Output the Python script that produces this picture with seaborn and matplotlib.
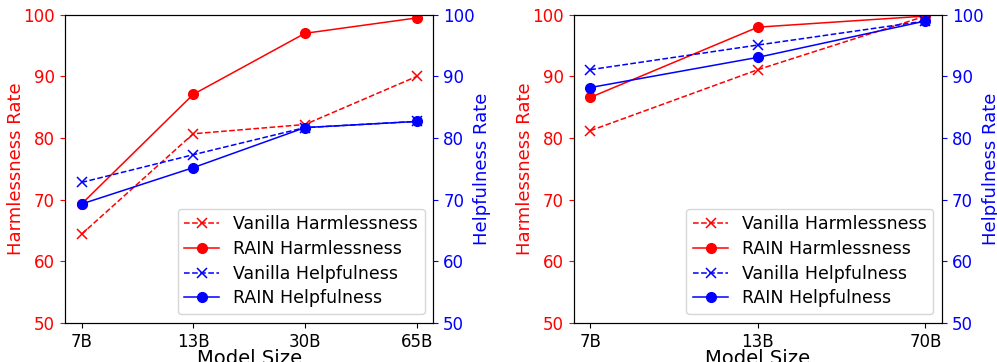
import matplotlib
matplotlib.use("Agg")
import matplotlib.pyplot as plt
import seaborn as sns

# ---- data ----
sizes_left = ["7B", "13B", "30B", "65B"]
vanilla_harm_left = [64.4, 80.7, 82.2, 90.0]
rain_harm_left = [69.3, 87.1, 97.0, 99.5]
vanilla_help_left = [72.8, 77.3, 81.7, 82.7]
rain_help_left = [69.3, 75.2, 81.7, 82.7]

sizes_right = ["7B", "13B", "70B"]
vanilla_harm_right = [81.2, 91.1, 99.8]
rain_harm_right = [86.6, 98.0, 99.8]
vanilla_help_right = [91.1, 95.1, 99.0]
rain_help_right = [88.2, 93.1, 99.0]

plt.rcParams['font.family'] = ['DejaVu Sans']
plt.rcParams['xtick.labelsize'] = 12
plt.rcParams['ytick.labelsize'] = 12
plt.rcParams['axes.labelsize'] = 13
plt.rcParams['legend.fontsize'] = 12.5


def draw_panel(ax, sizes, v_harm, r_harm, v_help, r_help):
    ax2 = ax.twinx()
    sns.lineplot(x=sizes, y=v_harm, ax=ax, color='red', linestyle='--', marker='x',
                 markersize=7, linewidth=1.1, markeredgewidth=1.1, markeredgecolor='red',
                 label='Vanilla Harmlessness', legend=False)
    sns.lineplot(x=sizes, y=r_harm, ax=ax, color='red', linestyle='-', marker='o',
                 markersize=7, linewidth=1.1, markeredgewidth=1, markeredgecolor='red',
                 label='RAIN Harmlessness', legend=False)
    sns.lineplot(x=sizes, y=v_help, ax=ax2, color='blue', linestyle='--', marker='x',
                 markersize=7, linewidth=1.1, markeredgewidth=1.1, markeredgecolor='blue',
                 label='Vanilla Helpfulness', legend=False)
    sns.lineplot(x=sizes, y=r_help, ax=ax2, color='blue', linestyle='-', marker='o',
                 markersize=7, linewidth=1.1, markeredgewidth=1, markeredgecolor='blue',
                 label='RAIN Helpfulness', legend=False)

    ax.set_ylim(50, 100)
    ax2.set_ylim(50, 100)
    ax.set_xlabel('Model Size', fontsize=14, labelpad=-1)
    ax.set_ylabel('Harmlessness Rate', color='red', labelpad=-1)
    ax2.set_ylabel('Helpfulness Rate', color='blue', labelpad=-1)
    ax.tick_params(axis='y', colors='red')
    ax2.tick_params(axis='y', colors='blue')

    h1, l1 = ax.get_legend_handles_labels()
    h2, l2 = ax2.get_legend_handles_labels()
    ax2.legend(h1 + h2, l1 + l2, loc='lower right', labelspacing=0.38)


fig, axes = plt.subplots(1, 2, figsize=(9.97, 3.62), dpi=100)
draw_panel(axes[0], sizes_left, vanilla_harm_left, rain_harm_left, vanilla_help_left, rain_help_left)
draw_panel(axes[1], sizes_right, vanilla_harm_right, rain_harm_right, vanilla_help_right, rain_help_right)

fig.subplots_adjust(left=0.065, right=0.945, top=0.959, bottom=0.108, wspace=0.38)
fig.savefig('out.png', dpi=100)
